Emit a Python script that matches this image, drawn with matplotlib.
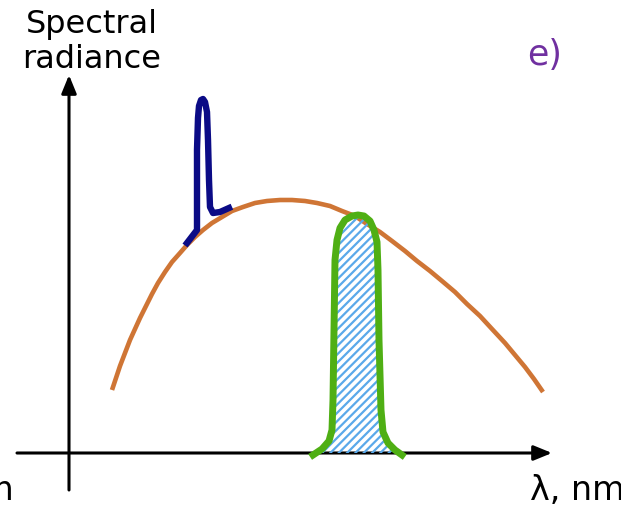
import matplotlib.pyplot as plt
from matplotlib.patches import Polygon

plt.rcParams['hatch.linewidth'] = 1.6
plt.rcParams['hatch.color'] = '#5aa9ea'

# origin of the sketch axes sits at (0, 0); units are arbitrary
planck_x = [43, 47, 51, 56, 61, 66, 71, 77, 83, 89, 96, 103, 111, 118, 126, 134,
            143, 153, 163, 174, 186, 198, 211, 223, 236, 248, 261, 273, 286,
            298, 311, 323, 336, 348, 361, 373, 386, 398, 411, 423, 436, 446,
            456, 465, 474]
planck_y = [63, 75, 87, 100, 113, 124, 135, 147, 159, 170, 181, 191, 200, 208,
            216, 223, 230, 236, 242, 246, 250, 252, 253, 253, 252, 250, 247,
            242, 237, 229, 221, 212, 202, 192, 182, 172, 161, 149, 137, 124,
            110, 98, 86, 74, 61]

line_x = [118, 128, 128, 128, 129, 130, 132, 134, 136, 138, 139, 140, 141, 144,
          151, 160]
line_y = [210, 223, 253, 303, 335, 347, 353, 354, 351, 341, 313, 273, 246, 240,
          241, 245]

band_x = [244, 253, 260, 263, 264, 265, 266, 268, 271, 276, 283, 289, 295, 301,
          305, 308, 309, 310, 312, 314, 319, 326, 333]
band_y = [-2, 4, 12, 23, 53, 123, 193, 213, 225, 233, 237, 238, 237, 232, 223,
          211, 183, 113, 43, 21, 10, 3, -2]

fig, ax = plt.subplots(figsize=(6.21, 5.09), dpi=100)
fig.subplots_adjust(0, 0, 1, 1)
ax.set_xlim(-69, 552)
ax.set_ylim(-56, 453)
ax.axis('off')

# axes with arrows
ax.annotate('', xy=(483, 0), xytext=(-52, 0),
            arrowprops=dict(arrowstyle='-|>,head_length=1.1,head_width=0.45',
                            color='black', lw=2.2, shrinkA=0, shrinkB=0))
ax.annotate('', xy=(0, 378), xytext=(0, -37),
            arrowprops=dict(arrowstyle='-|>,head_length=1.1,head_width=0.45',
                            color='black', lw=2.2, shrinkA=0, shrinkB=0))

# hatched area under the filter band
fill_x = band_x[1:-1]
fill_y = [max(v, 0) for v in band_y[1:-1]]
verts = [(fill_x[0], 0)] + list(zip(fill_x, fill_y)) + [(fill_x[-1], 0)]
ax.add_patch(Polygon(verts, closed=True, facecolor='none', edgecolor='#5aa9ea',
                     hatch='////', lw=0, zorder=3))

ax.plot(planck_x, planck_y, color='#cf7535', lw=3.3, zorder=2,
        solid_capstyle='butt')
ax.plot(line_x, line_y, color='#0b0b86', lw=4.6, zorder=4,
        solid_joinstyle='round')
ax.plot(band_x, band_y, color='#4faf14', lw=5.0, zorder=4,
        solid_joinstyle='round')

ax.text(23, 444, 'Spectral\nradiance', fontsize=23, ha='center', va='top',
        linespacing=1.15)
ax.text(476, 398, 'e)', fontsize=25, color='#7030a0', ha='center', va='center')
ax.text(461, -38, 'λ, nm', fontsize=24, ha='left', va='center')
ax.text(-55, -38, 'λ, nm', fontsize=24, ha='right', va='center')

plt.savefig('out.png', dpi=100)
